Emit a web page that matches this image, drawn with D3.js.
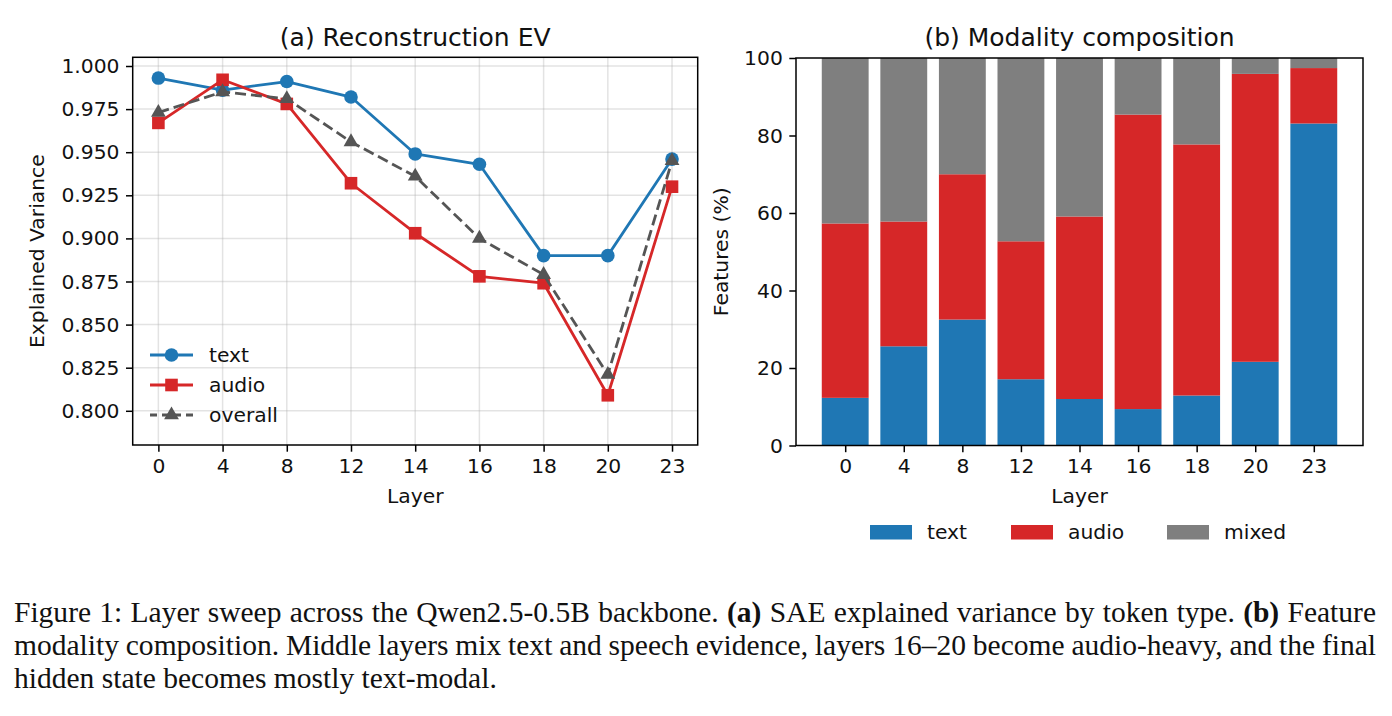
<!DOCTYPE html>
<html><head><meta charset="utf-8">
<script src="https://cdn.jsdelivr.net/npm/d3@7"></script>
<style>
html,body{margin:0;padding:0;background:#fff;}
svg{display:block;}
</style></head>
<body>
<svg id="fig" width="1392" height="716"></svg>
<script>
// ---------------- data ----------------
const layers = ["0","4","8","12","14","16","18","20","23"];
const evText    = [0.993, 0.986, 0.991, 0.982, 0.949, 0.943, 0.890, 0.890, 0.946];
const evAudio   = [0.967, 0.992, 0.978, 0.932, 0.903, 0.878, 0.874, 0.809, 0.930];
const evOverall = [0.973, 0.985, 0.981, 0.956, 0.936, 0.900, 0.879, 0.821, 0.945];
const compText  = [12.3, 25.6, 32.5, 17.1, 12.0, 9.4, 12.9, 21.6, 83.1];
const compAudio = [45.0, 32.2, 37.5, 35.6, 47.1, 76.0, 64.8, 74.3, 14.3];
const compMixed = [42.7, 42.2, 30.0, 47.3, 40.9, 14.6, 22.3, 4.1, 2.6];
const evTicks = [0.800, 0.825, 0.850, 0.875, 0.900, 0.925, 0.950, 0.975, 1.000];
const pctTicks = [0, 20, 40, 60, 80, 100];
const seriesNames = ["text", "audio", "overall"];
const modalityNames = ["text", "audio", "mixed"];

const C = {text:"#1f77b4", audio:"#d62728", overall:"#555555", mixed:"#7f7f7f"};
const FONT = '"DejaVu Sans", sans-serif';
const TICKFS = 20.3, TITLEFS = 25;
const svg = d3.select("#fig");

function styleAxis(g){
  g.selectAll(".domain").remove();
  g.selectAll(".tick line").attr("stroke","#000").attr("stroke-width",1.5);
  g.selectAll(".tick text").attr("font-size",TICKFS).attr("fill","#111").attr("font-family",FONT);
}

// ---------------- panel (a) ----------------
{
  const L=132.7, R=697.7, T=57.3, B=445;
  const x = d3.scaleLinear().domain([-0.4, 8.4]).range([L,R]);
  const xp = (i)=>x(i);
  const y = d3.scaleLinear().domain([0.78016, 1.00505]).range([B,T]);

  const g = svg.append("g");
  g.append("g").selectAll("line").data(layers).join("line")
    .attr("x1",(d,i)=>xp(i)).attr("x2",(d,i)=>xp(i)).attr("y1",T).attr("y2",B)
    .attr("stroke","#b0b0b0").attr("stroke-opacity",0.35).attr("stroke-width",1.5);
  g.append("g").selectAll("line").data(evTicks).join("line")
    .attr("x1",L).attr("x2",R).attr("y1",d=>y(d)).attr("y2",d=>y(d))
    .attr("stroke","#b0b0b0").attr("stroke-opacity",0.35).attr("stroke-width",1.5);

  const xa = g.append("g").attr("transform",`translate(0,${B})`)
    .call(d3.axisBottom(x).tickValues(d3.range(layers.length)).tickFormat(i=>layers[i]).tickSize(6.7).tickPadding(6.5));
  styleAxis(xa);
  const ya = g.append("g").attr("transform",`translate(${L},0)`)
    .call(d3.axisLeft(y).tickValues(evTicks).tickFormat(d3.format(".3f")).tickSize(6.7).tickPadding(6.5));
  styleAxis(ya);

  const series = [
    {name:"text", vals:evText, color:C.text, dash:null, marker:"circle"},
    {name:"audio", vals:evAudio, color:C.audio, dash:null, marker:"square"},
    {name:"overall", vals:evOverall, color:C.overall, dash:"11,5", marker:"triangle"}
  ];
  const line = d3.line().x((d,i)=>xp(i)).y(d=>y(d));
  function drawMarker(sel, type, color){
    if(type==="circle") sel.append("circle").attr("r",6.8).attr("fill",color);
    else if(type==="square") sel.append("rect").attr("x",-6.3).attr("y",-6.3).attr("width",12.6).attr("height",12.6).attr("fill",color);
    else sel.append("path").attr("d",d3.symbol().type(d3.symbolTriangle).size(95)()).attr("fill",color);
  }
  series.forEach(s=>{
    g.append("path").datum(s.vals).attr("d",line).attr("fill","none")
      .attr("stroke",s.color).attr("stroke-width",2.8).attr("stroke-dasharray",s.dash)
      .attr("stroke-linejoin","round");
    s.vals.forEach((v,i)=>{
      const m = g.append("g").attr("transform",`translate(${xp(i)},${y(v)})`);
      drawMarker(m, s.marker, s.color);
    });
  });

  g.append("rect").attr("x",L).attr("y",T).attr("width",R-L).attr("height",B-T)
    .attr("fill","none").attr("stroke","#000").attr("stroke-width",1.5);

  const lg = g.append("g");
  series.forEach((s,i)=>{
    const yy = 355 + i*30;
    lg.append("line").attr("x1",150).attr("x2",193).attr("y1",yy).attr("y2",yy)
      .attr("stroke",s.color).attr("stroke-width",2.8).attr("stroke-dasharray",s.dash?"7,5":null);
    const m = lg.append("g").attr("transform",`translate(171.5,${yy})`);
    drawMarker(m, s.marker, s.color);
    lg.append("text").attr("x",209).attr("y",yy).attr("dy","0.35em")
      .attr("font-family",FONT).attr("font-size",TICKFS).attr("fill","#111").text(seriesNames[i]);
  });

  g.append("text").attr("x",(L+R)/2).attr("y",45.5).attr("text-anchor","middle")
    .attr("font-family",FONT).attr("font-size",TITLEFS).attr("fill","#111").text("(a) Reconstruction EV");
  g.append("text").attr("x",(L+R)/2).attr("y",503).attr("text-anchor","middle")
    .attr("font-family",FONT).attr("font-size",TICKFS).attr("fill","#111").text("Layer");
  g.append("text").attr("transform",`translate(44,${(T+B)/2}) rotate(-90)`).attr("text-anchor","middle")
    .attr("font-family",FONT).attr("font-size",TICKFS).attr("fill","#111").text("Explained Variance");
}

// ---------------- panel (b) ----------------
{
  const L=796, R=1363, T=58, B=445.5;
  const xl = d3.scaleLinear().domain([-0.84, 8.84]).range([L,R]);
  const y = d3.scaleLinear().domain([0,100]).range([B,T]);
  const g = svg.append("g");
  const rows = layers.map((d,i)=>({layer:d, i, text:compText[i], audio:compAudio[i], mixed:compMixed[i]}));
  const stack = d3.stack().keys(modalityNames)(rows);
  const bw = xl(0.4)-xl(-0.4);
  stack.forEach(layer=>{
    g.append("g").selectAll("rect").data(layer).join("rect")
      .attr("x",d=>xl(d.data.i)-bw/2).attr("width",bw)
      .attr("y",d=>y(Math.min(d[1],100))).attr("height",d=>y(d[0])-y(Math.min(d[1],100)))
      .attr("fill",C[layer.key]);
  });
  const xa = g.append("g").attr("transform",`translate(0,${B})`)
    .call(d3.axisBottom(xl).tickValues(d3.range(layers.length)).tickFormat(i=>layers[i]).tickSize(6.7).tickPadding(6.5));
  styleAxis(xa);
  const ya = g.append("g").attr("transform",`translate(${L},0)`)
    .call(d3.axisLeft(y).tickValues(pctTicks).tickSize(6.7).tickPadding(6.5));
  styleAxis(ya);
  g.append("rect").attr("x",L).attr("y",T).attr("width",R-L).attr("height",B-T)
    .attr("fill","none").attr("stroke","#000").attr("stroke-width",1.5);

  g.append("text").attr("x",(L+R)/2).attr("y",45.5).attr("text-anchor","middle")
    .attr("font-family",FONT).attr("font-size",TITLEFS).attr("fill","#111").text("(b) Modality composition");
  g.append("text").attr("x",(L+R)/2).attr("y",503).attr("text-anchor","middle")
    .attr("font-family",FONT).attr("font-size",TICKFS).attr("fill","#111").text("Layer");
  g.append("text").attr("transform",`translate(728,${(T+B)/2}) rotate(-90)`).attr("text-anchor","middle")
    .attr("font-family",FONT).attr("font-size",TICKFS).attr("fill","#111").text("Features (%)");

  const lx = [870, 1011, 1167];
  modalityNames.forEach((n,i)=>{
    g.append("rect").attr("x",lx[i]).attr("y",525).attr("width",42).attr("height",14.5).attr("fill",C[n]);
    g.append("text").attr("x",lx[i]+57).attr("y",532).attr("dy","0.35em")
      .attr("font-family",FONT).attr("font-size",TICKFS).attr("fill","#111").text(n);
  });
}

// ---------------- caption ----------------
{
  const SERIF = '"Liberation Serif","Times New Roman",serif';
  const lines = [
    {parts:[["Figure 1: Layer sweep across the Qwen2.5-0.5B backbone. ",false],["(a)",true],[" SAE explained variance by token type. ",false],["(b)",true],[" Feature",false]], justify:true},
    {parts:[["modality composition. Middle layers mix text and speech evidence, layers 16\u201320 become audio-heavy, and the final",false]], justify:true},
    {parts:[["hidden state becomes mostly text-modal.",false]], justify:false}
  ];
  const X0=14, X1=1376, Y0=622, LH=33;
  // choose font size so that the last (unjustified) line spans its reference width
  const probe = svg.append("text").attr("font-family",SERIF).attr("font-size",24).text(lines[2].parts[0][0]);
  const w3 = probe.node().getComputedTextLength(); probe.remove();
  const FS = 24*483/w3;
  const texts = lines.map((ln,k)=>{
    const t = svg.append("text").attr("x",X0).attr("y",Y0+k*LH)
      .attr("font-family",SERIF).attr("font-size",FS).attr("fill","#111").attr("xml:space","preserve");
    ln.parts.forEach(p=>{
      t.append("tspan").attr("font-weight",p[1]?"bold":"normal").text(p[0]);
    });
    if(ln.justify){
      const w = t.node().getComputedTextLength();
      const full = ln.parts.map(p=>p[0]).join("");
      const nsp = (full.match(/ /g)||[]).length;
      if(nsp>0) t.attr("word-spacing",(X1-X0-w)/nsp);
    }
    return t;
  });
}
</script>
</body></html>
